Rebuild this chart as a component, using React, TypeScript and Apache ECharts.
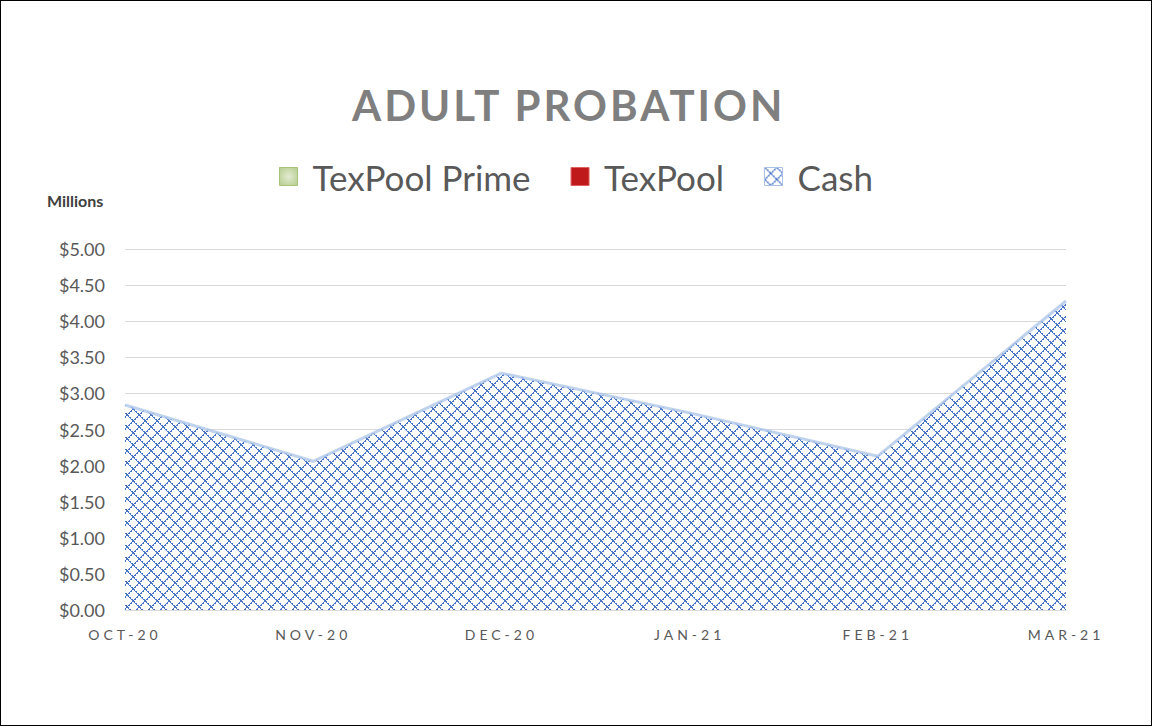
import React, { useEffect, useRef } from "react";
import * as echarts from "echarts";

const months = ["OCT-20", "NOV-20", "DEC-20", "JAN-21", "FEB-21", "MAR-21"];
const texPoolPrime = [0, 0, 0, 0, 0, 0];
const texPool = [0, 0, 0, 0, 0, 0];
const cash = [2.84, 2.06, 3.28, 2.73, 2.13, 4.28];
const yTicks = [0, 0.5, 1, 1.5, 2, 2.5, 3, 3.5, 4, 4.5, 5];

function makePattern(): HTMLCanvasElement {
  const n = 12;
  const c = document.createElement("canvas");
  c.width = n;
  c.height = n;
  const ctx = c.getContext("2d")!;
  ctx.fillStyle = "#ffffff";
  ctx.fillRect(0, 0, n, n);
  ctx.fillStyle = "#4472c4";
  for (let i = 0; i < n; i++) {
    ctx.fillRect(i, i, 1, 1);
    ctx.fillRect(i, n - 1 - i, 1, 1);
    if (i % 2 === 0) {
      ctx.fillRect((i + 1) % n, i, 1, 1);
      ctx.fillRect((n - i) % n, i, 1, 1);
    }
  }
  return c;
}

export default function App() {
  const ref = useRef<HTMLDivElement>(null);
  useEffect(() => {
    document.body.style.margin = "0";
    const el = ref.current!;
    const chart = echarts.init(el, undefined, { renderer: "svg" });
    const pattern = makePattern();
    const patternFill: any = { image: pattern, repeat: "repeat" };
    const font = "Lato, 'Open Sans', sans-serif";
    chart.setOption({
      animation: false,
      backgroundColor: "#ffffff",
      title: {
        text: "ADULT PROBATION",
        left: 346,
        top: 78,
        textStyle: { fontFamily: font, fontSize: 42, fontWeight: "bold", color: "#7f7f7f" },
      },
      legend: {
        left: "center",
        top: 153,
        itemWidth: 18,
        itemHeight: 18,
        itemGap: 40,
        textStyle: { fontFamily: font, fontSize: 35, color: "#595959", padding: [0, 0, 0, 10] },
        data: [
          {
            name: "TexPool Prime",
            icon: "rect",
            itemStyle: {
              color: new echarts.graphic.RadialGradient(0.5, 0.5, 0.7, [
                { offset: 0, color: "#e2ebd2" },
                { offset: 1, color: "#b5cc8c" },
              ]),
              borderColor: "#a8c27a",
              borderWidth: 1,
            },
          },
          { name: "TexPool", icon: "rect", itemStyle: { color: "#c0191c", borderColor: "#e06060", borderWidth: 1 } },
          { name: "Cash", icon: "rect", itemStyle: { color: patternFill, borderColor: "#a9c0e6", borderWidth: 1 } },
        ],
      },
      graphic: [
        {
          type: "text",
          left: 46,
          top: 191,
          style: { text: "Millions", fontFamily: font, fontSize: 16, fontWeight: "bold", fill: "#404040" },
        },
      ],
      grid: { left: 124, right: 85, top: 248, bottom: 115 },
      xAxis: {
        type: "category",
        boundaryGap: false,
        data: months,
        axisLine: { show: true, lineStyle: { color: "#d9d9d9" } },
        axisTick: { show: false },
        axisLabel: { fontFamily: font, fontSize: 14, color: "#595959", margin: 17 },
      },
      yAxis: {
        type: "value",
        min: yTicks[0],
        max: yTicks[yTicks.length - 1],
        interval: 0.5,
        axisLine: { show: false },
        axisTick: { show: false },
        splitLine: { lineStyle: { color: "#d9d9d9", width: 1 } },
        axisLabel: {
          fontFamily: font,
          fontSize: 18,
          color: "#595959",
          margin: 20,
          formatter: (v: number) => "$" + v.toFixed(2),
        },
      },
      series: [
        {
          name: "TexPool Prime",
          type: "line",
          stack: "total",
          data: texPoolPrime,
          showSymbol: false,
          lineStyle: { width: 0, opacity: 0 },
          areaStyle: { color: "#c3d69b", opacity: 0 },
          itemStyle: { color: "#c3d69b" },
        },
        {
          name: "TexPool",
          type: "line",
          stack: "total",
          data: texPool,
          showSymbol: false,
          lineStyle: { width: 0, opacity: 0 },
          areaStyle: { color: "#c0191c", opacity: 0 },
          itemStyle: { color: "#c0191c" },
        },
        {
          name: "Cash",
          type: "line",
          stack: "total",
          data: cash,
          showSymbol: false,
          lineStyle: { width: 3, color: "rgba(170,195,232,0.75)" },
          areaStyle: { color: patternFill, opacity: 1 },
          itemStyle: { color: "#4472c4" },
        },
      ],
    });
    const spacing = () => {
      const texts = el.querySelectorAll("svg text");
      texts.forEach((t) => {
        const s = t.textContent || "";
        if (months.indexOf(s) >= 0) t.setAttribute("letter-spacing", "4");
        else if (s === "ADULT PROBATION") t.setAttribute("letter-spacing", "3");
      });
    };
    spacing();
    chart.on("finished", spacing);
    const id = setTimeout(spacing, 50);
    return () => {
      clearTimeout(id);
      chart.dispose();
    };
  }, []);
  return (
    <div
      ref={ref}
      style={{ width: 1152, height: 726, border: "1px solid #000", boxSizing: "border-box" }}
    />
  );
}
